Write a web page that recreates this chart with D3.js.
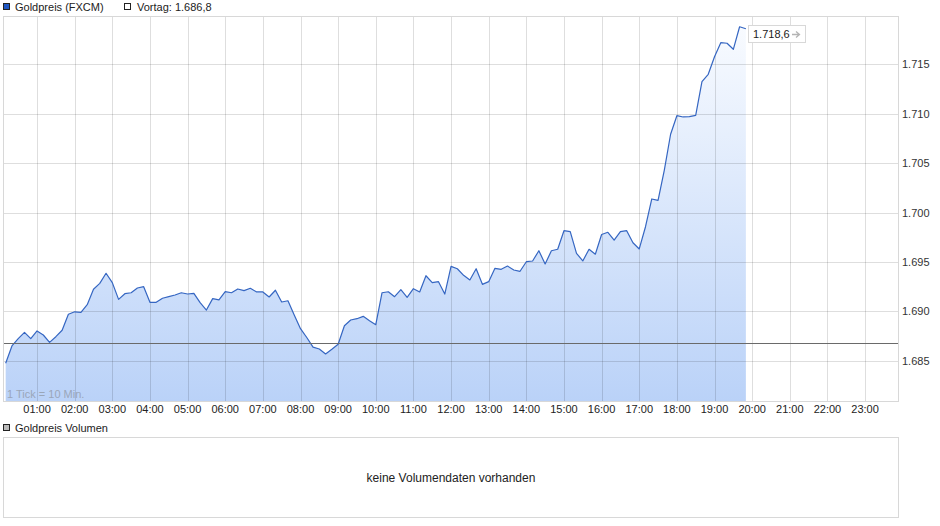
<!DOCTYPE html>
<html><head><meta charset="utf-8">
<script src="https://cdn.jsdelivr.net/npm/d3@7/dist/d3.min.js"></script>
<style>
html,body{margin:0;padding:0;background:#fff;}
svg{display:block;font-family:"Liberation Sans",Arial,sans-serif;}
</style></head>
<body><svg id="c" width="940" height="526"></svg>
<script>
// ---- data ----
const seriesName = "Goldpreis (FXCM)";
const prevCloseLabel = "Vortag: 1.686,8";
const prevClose = 1.6868;
const lastLabel = "1.718,6";
const startMinute = 10;      // first tick 00:10
const tickMinutes = 10;      // 1 Tick = 10 Min.
const prices = [
 1.68474,1.68649,1.68723,1.68787,1.68723,1.68801,1.68760,1.68686,1.68743,1.68808,
 1.68970,1.68995,1.68990,1.69067,1.69223,1.69283,1.69385,1.69290,1.69121,1.69178,
 1.69188,1.69236,1.69249,1.69091,1.69091,1.69132,1.69148,1.69165,1.69188,1.69175,
 1.69182,1.69087,1.69013,1.69128,1.69115,1.69199,1.69188,1.69226,1.69209,1.69233,
 1.69196,1.69196,1.69145,1.69213,1.69094,1.69107,1.68963,1.68824,1.68735,1.68638,
 1.68618,1.68568,1.68615,1.68666,1.68854,1.68912,1.68925,1.68949,1.68905,1.68864,
 1.69188,1.69198,1.69148,1.69219,1.69142,1.69229,1.69196,1.69360,1.69290,1.69300,
 1.69175,1.69455,1.69431,1.69364,1.69317,1.69431,1.69273,1.69300,1.69435,1.69425,
 1.69458,1.69418,1.69405,1.69502,1.69509,1.69613,1.69479,1.69613,1.69628,1.69816,
 1.69806,1.69587,1.69510,1.69628,1.69578,1.69777,1.69800,1.69720,1.69806,1.69816,
 1.69694,1.69631,1.69856,1.70137,1.70123,1.70430,1.70792,1.70980,1.70967,1.70970,
 1.70984,1.71324,1.71399,1.71577,1.71719,1.71713,1.71652,1.71880,1.71860
];
const yTicks = [1.685,1.690,1.695,1.700,1.705,1.710,1.715];
const xTickHours = d3.range(1,24);
const volumeTitle = "Goldpreis Volumen";
const volumeMsg = "keine Volumendaten vorhanden";
const tickNote = "1 Tick = 10 Min.";

// ---- layout ----
const svg = d3.select("#c");
const P = {l:3, r:899, t:16, b:401};
const day0 = new Date(2020,0,1,0,0);
const day1 = new Date(2020,0,2,0,0);
const x = d3.scaleTime().domain([day0, day1]).range([-0.6, 902.7]);
const y = d3.scaleLinear().domain([1.680921, 1.71989]).range([P.b, P.t]);
const data = prices.map((v,i)=>({t:new Date(day0.getTime() + (startMinute + i*tickMinutes)*60000), v}));

const defs = svg.append("defs");
const grad = defs.append("linearGradient").attr("id","fillg")
  .attr("gradientUnits","userSpaceOnUse").attr("x1",0).attr("x2",0).attr("y1",P.t).attr("y2",P.b);
grad.append("stop").attr("offset","0%").attr("stop-color","#fafcff");
grad.append("stop").attr("offset","100%").attr("stop-color","#bad2f8");
defs.append("clipPath").attr("id","clip").append("rect")
  .attr("x",P.l).attr("y",P.t).attr("width",P.r-P.l).attr("height",P.b-P.t);

const g = svg.append("g").attr("clip-path","url(#clip)");

// area
g.append("path").datum(data)
  .attr("d", d3.area().x(d=>x(d.t)).y0(P.b).y1(d=>y(d.v)))
  .attr("fill","url(#fillg)");

// grid
const hourDates = xTickHours.map(h=>new Date(day0.getTime()+h*3600000));
g.selectAll(".vg").data(hourDates).join("line")
  .attr("x1",d=>Math.round(x(d))+0.5).attr("x2",d=>Math.round(x(d))+0.5)
  .attr("y1",P.t).attr("y2",P.b).attr("stroke","rgba(0,0,0,0.13)").attr("stroke-width",1);
g.selectAll(".hg").data(yTicks).join("line")
  .attr("x1",P.l).attr("x2",P.r)
  .attr("y1",d=>Math.round(y(d))+0.5).attr("y2",d=>Math.round(y(d))+0.5)
  .attr("stroke","rgba(0,0,0,0.13)").attr("stroke-width",1);

// line
g.append("path").datum(data)
  .attr("d", d3.line().x(d=>x(d.t)).y(d=>y(d.v)))
  .attr("fill","none").attr("stroke","#3566c2").attr("stroke-width",1.2).attr("stroke-linejoin","round");

// previous close
svg.append("line").attr("x1",P.l).attr("x2",P.r)
  .attr("y1",Math.round(y(prevClose))+0.5).attr("y2",Math.round(y(prevClose))+0.5)
  .attr("stroke","#6a6a6a").attr("stroke-width",1);

// frame
svg.append("rect").attr("x",P.l+0.5).attr("y",P.t+0.5).attr("width",P.r-P.l-1).attr("height",P.b-P.t)
  .attr("fill","none").attr("stroke","#d8d8d8");

// y labels
svg.selectAll(".yl").data(yTicks).join("text")
  .attr("x",902).attr("y",d=>y(d)+4).attr("font-size",11).attr("fill","#333")
  .text(d=>d3.format(".3f")(d));

// x labels
const fmt = d3.timeFormat("%H:%M");
svg.selectAll(".xl").data(hourDates).join("text")
  .attr("x",d=>x(d)).attr("y",413).attr("text-anchor","middle").attr("font-size",11).attr("fill","#222")
  .text(d=>fmt(d));

// tick note
svg.append("text").attr("x",7).attr("y",398).attr("font-size",11).attr("fill","#9aa6b8").text(tickNote);

// last value label
const last = data[data.length-1];
const lb = svg.append("g").attr("transform",`translate(748,${Math.round(y(last.v))-4})`);
lb.append("rect").attr("x",0.5).attr("y",0.5).attr("width",57).attr("height",17).attr("fill","#fff").attr("stroke","#d8d8d8");
lb.append("text").attr("x",5).attr("y",13).attr("font-size",11).attr("fill","#222").text(lastLabel);
lb.append("path").attr("d","M44,9.5H51M48,6.5L51.5,9.5L48,12.5")
  .attr("fill","none").attr("stroke","#b4b4b4").attr("stroke-width",1.3);

// legend
svg.append("rect").attr("x",3.5).attr("y",3.5).attr("width",6).attr("height",6).attr("fill","#1f57c3").attr("stroke","#222");
svg.append("text").attr("x",15).attr("y",10.5).attr("font-size",11).attr("fill","#222").text(seriesName);
svg.append("rect").attr("x",124.5).attr("y",3.5).attr("width",6).attr("height",6).attr("fill","#fff").attr("stroke","#222");
svg.append("text").attr("x",137).attr("y",10.5).attr("font-size",11).attr("fill","#222").text(prevCloseLabel);

// volume panel
svg.append("rect").attr("x",3.5).attr("y",424.5).attr("width",6).attr("height",6).attr("fill","#bbb").attr("stroke","#222");
svg.append("text").attr("x",15).attr("y",431.5).attr("font-size",11).attr("fill","#222").text(volumeTitle);
svg.append("rect").attr("x",3.5).attr("y",437.5).attr("width",895).attr("height",80).attr("fill","none").attr("stroke","#d8d8d8");
svg.append("text").attr("x",451).attr("y",482).attr("text-anchor","middle").attr("font-size",12).attr("fill","#222").text(volumeMsg);
</script></body></html>
